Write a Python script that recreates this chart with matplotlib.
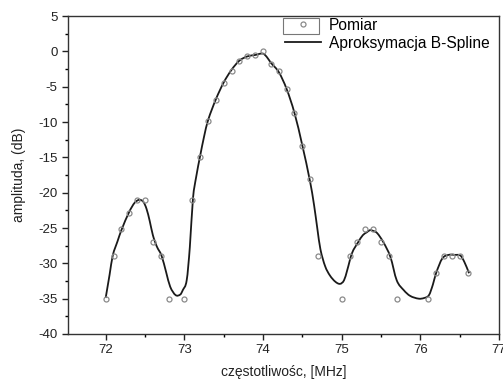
import numpy as np
import matplotlib.pyplot as plt
from matplotlib.patches import Rectangle, PathPatch
from matplotlib.path import Path

plt.rcParams['font.family'] = ['Liberation Sans', 'DejaVu Sans']
plt.rcParams['axes.unicode_minus'] = False

# measured points (Pomiar)
freq = [72.0, 72.1, 72.2, 72.3, 72.4, 72.5, 72.6, 72.7, 72.8, 73.0, 73.1,
        73.2, 73.3, 73.4, 73.5, 73.6, 73.7, 73.8, 73.9, 74.0,
        74.1, 74.2, 74.3, 74.4, 74.5, 74.6, 74.7,
        75.0, 75.1, 75.2, 75.3, 75.4, 75.5, 75.6, 75.7,
        76.1, 76.2, 76.3, 76.4, 76.5, 76.6]
amp = [-35, -29, -25.2, -22.8, -21, -21, -27, -29, -35, -35, -21,
       -14.9, -9.8, -6.8, -4.4, -2.7, -1.4, -0.7, -0.5, 0.0,
       -1.8, -2.8, -5.3, -8.7, -13.4, -18, -29,
       -35, -29, -27, -25.2, -25.2, -27, -29, -35,
       -35, -31.4, -29, -29, -29, -31.4]

# B-spline approximation
fit_f = [72.00, 72.05, 72.09, 72.15, 72.20, 72.30, 72.37, 72.43, 72.48, 72.52, 72.56,
         72.60, 72.65, 72.71, 72.77, 72.82, 72.89, 72.95, 72.98, 73.03, 73.07,
         73.11, 73.15, 73.20, 73.25, 73.30, 73.40, 73.50, 73.60, 73.70, 73.80,
         73.90, 74.00, 74.05, 74.10, 74.20, 74.30, 74.40, 74.50, 74.60, 74.65,
         74.69, 74.73, 74.79, 74.85, 74.92, 74.98, 75.03, 75.07, 75.13, 75.21,
         75.27, 75.32, 75.36, 75.40, 75.45, 75.53, 75.62, 75.70, 75.79, 75.87,
         75.98, 76.05, 76.11, 76.16, 76.20, 76.28, 76.36, 76.44, 76.51, 76.56, 76.62]
fit_a = [-34.9, -31.6, -28.9, -26.9, -25.3, -22.7, -21.4, -21.0, -21.3, -22.3, -24.0,
         -26.0, -27.6, -28.9, -31.3, -33.3, -34.5, -34.4, -33.8, -32.4, -27.7,
         -20.8, -17.8, -14.85, -12.1, -9.8, -6.8, -4.4, -2.6, -1.3, -0.7,
         -0.5, -0.3, -0.8, -1.6, -2.9, -5.3, -8.7, -13.3, -18.5, -21.8,
         -25.0, -28.0, -30.4, -31.7, -32.6, -32.9, -32.4, -31.0, -28.6, -27.0,
         -26.0, -25.6, -25.3, -25.4, -25.7, -27.0, -29.1, -32.4, -33.8, -34.6,
         -35.0, -34.9, -34.5, -33.0, -31.4, -29.3, -28.8, -28.8, -28.9, -29.8, -31.4]

fig = plt.figure(figsize=(5.03, 3.85), dpi=100)
ax = fig.add_axes([0.135, 0.1325, 0.857, 0.8255])

ax.plot(freq, amp, linestyle='none', marker='o', markersize=3.6,
        markerfacecolor='none', markeredgecolor='#8a8a8a', markeredgewidth=0.9,
        label='Pomiar')

# smooth curve through the read points (cubic bezier segments)
x = np.array(fit_f)
y = np.array(fit_a)
n = len(x)
m = np.zeros(n)
m[1:-1] = (y[2:] - y[:-2]) / (x[2:] - x[:-2])
m[0] = (y[1] - y[0]) / (x[1] - x[0])
m[-1] = (y[-1] - y[-2]) / (x[-1] - x[-2])
verts = [(x[0], y[0])]
codes = [Path.MOVETO]
for i in range(n - 1):
    h = x[i + 1] - x[i]
    verts += [(x[i] + h / 3, y[i] + m[i] * h / 3),
              (x[i + 1] - h / 3, y[i + 1] - m[i + 1] * h / 3),
              (x[i + 1], y[i + 1])]
    codes += [Path.CURVE4] * 3
ax.add_patch(PathPatch(Path(verts, codes), fill=False, edgecolor='#1a1a1a',
                       linewidth=1.3))
ax.plot([], [], color='#1a1a1a', linewidth=1.3, label='Aproksymacja B-Spline')

ax.set_xlim(71.52, 77)
ax.set_ylim(-40, 5)
ax.set_xticks([72, 73, 74, 75, 76, 77])
ax.set_xticks(np.arange(72.5, 77, 1.0), minor=True)
ax.set_yticks(np.arange(-40, 6, 5))
ax.set_yticks(np.arange(-37.5, 5, 5), minor=True)
ax.tick_params(which='major', direction='out', length=4, width=1, labelsize=9.5,
               colors='#222222')
ax.tick_params(which='minor', direction='out', length=2.5, width=1)
for s in ax.spines.values():
    s.set_color('#333333')
    s.set_linewidth(1.0)

ax.set_xlabel('częstotliwośc, [MHz]', fontsize=10, labelpad=6, color='#222222')
ax.set_ylabel('amplituda, (dB)', fontsize=10, labelpad=9, color='#222222')

leg = ax.legend(loc='upper right', bbox_to_anchor=(1.0, 1.025), frameon=False,
                fontsize=11.2, handlelength=2.3, handletextpad=0.5,
                labelspacing=0.2, borderaxespad=0.2)
# box round the marker sample, as in the original
ax.add_patch(Rectangle((0.499, 0.943), 0.083, 0.051, transform=ax.transAxes,
                       fill=False, edgecolor='#777777', linewidth=0.8))

fig.savefig('out.png', dpi=100)
